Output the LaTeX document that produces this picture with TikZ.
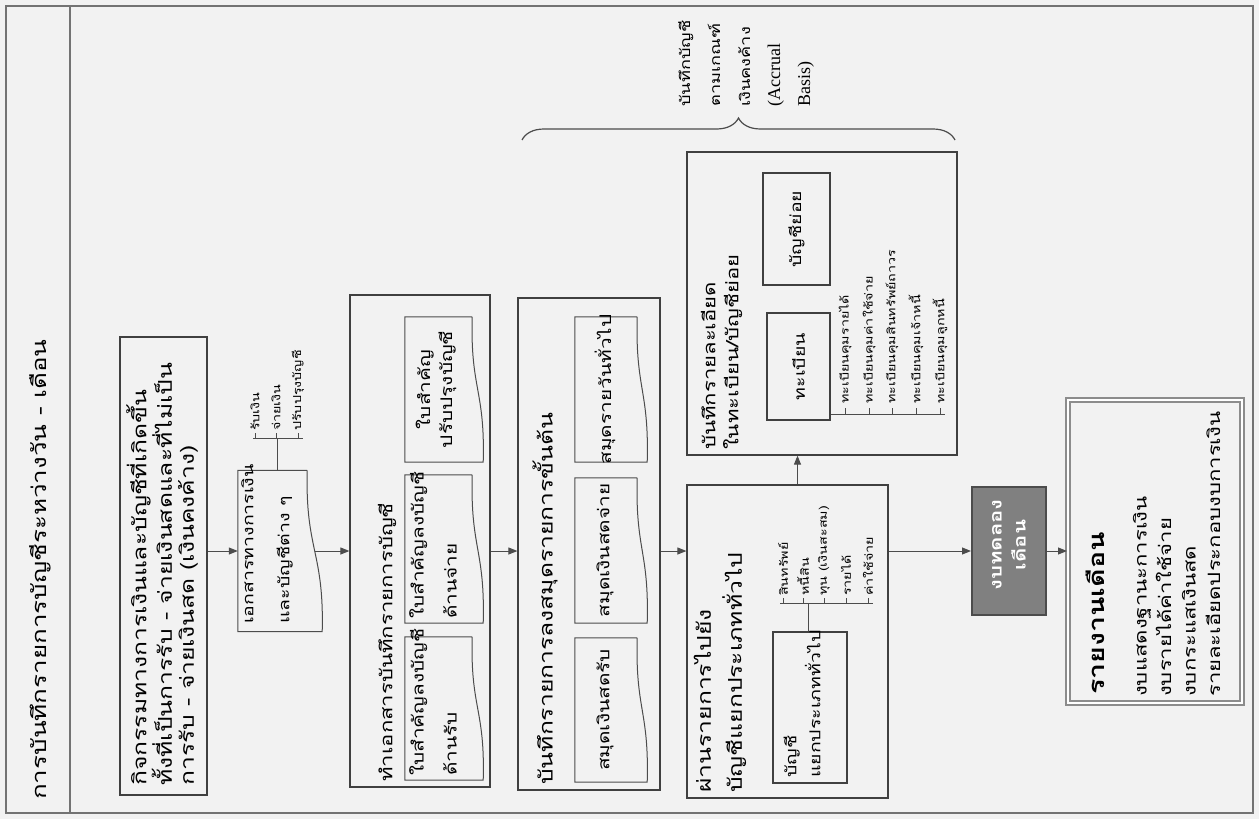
\documentclass[tikz,border=0pt]{standalone}
\usepackage{fontspec}
\setmainfont[Script=Thai,FakeStretch=1.3]{Loma}
\newfontfamily\latinfont{Liberation Serif}
\usetikzlibrary{arrows.meta,calc,decorations.pathreplacing}

\newcommand\fs[2]{\fontsize{#1}{#2}\selectfont}
% document outline with a wavy right side
\newcommand\docpath[2]{%
  \draw[doc line] ($(#1.north east)+(-#2,0)$) -- (#1.north west) -- (#1.south west) -- (#1.south east)
    .. controls ($(#1.south east)!0.5!(#1.north east)+(2,0)$) and ($(#1.south east)!0.5!(#1.north east)+(-#2-2,0)$)
    .. ($(#1.north east)+(-#2,0)$);}

\begin{document}
\begin{tikzpicture}[x=1pt,y=-1pt,
  > = {Triangle[length=9pt,width=7pt]},
  frame/.style = {draw=black!55, line width=2.4pt},
  box/.style = {draw=black!75, line width=1.2pt, inner sep=0pt},
  doc/.style = {inner sep=0pt},
  doc line/.style = {draw=black!70, line width=1pt},
  flow/.style = {->, draw=black!70, line width=1pt},
  vtext/.style = {rotate=90, inner sep=0pt, align=left, anchor=west},
  tick/.style = {draw=black!70, line width=0.8pt}
  ]
  \useasboundingbox (0,0) rectangle (1259,819);
  \fill[black!5] (0,0) rectangle (1259,819);

  % page frame and title band
  \node[frame, minimum width=1247pt, minimum height=807pt] (page) at (629.5,409.5) {};
  \coordinate (band top) at (70,6);
  \coordinate (band bot) at (70,813);
  \draw[frame] (band top) -- (band bot);
  \node[vtext, font=\fs{20}{24}] (title) at (40,800) {การบันทึกรายการบัญชีระหว่างวัน - เดือน};

  % activities
  \node[box, minimum width=87pt, minimum height=458pt] (act) at (163.5,566) {};
  \node[vtext, font=\fs{19}{22}] (act text) at (162,786)
    {กิจกรรมทางการเงินและบัญชีที่เกิดขึ้น\\ทั้งที่เป็นการรับ - จ่ายเงินสดและที่ไม่เป็น\\การรับ - จ่ายเงินสด (เงินคงค้าง)};

  % source documents
  \node[doc, minimum width=84pt, minimum height=161pt] (fdoc) at (280,551) {};
  \docpath{fdoc}{15}
  \node[vtext, font=\fs{15}{36}] (fdoc text) at (267,624) {เอกสารทางการเงิน\\และบัญชีต่าง ๆ};
  \coordinate (fstem) at (277,438);
  \draw[tick] (fstem |- fdoc.north) -- (fstem);
  \draw[tick] (253,438) -- (303,438);
  \foreach \tx/\lab [count=\i] in {255/รับเงิน, 276/จ่ายเงิน, 298/ปรับปรุงบัญชี}{
    \draw[tick] (\tx,438) -- (\tx,433);
    \node[vtext, font=\fs{11}{13}] (flab\i) at (\tx,431) {\lab};
  }

  % vouchers
  \node[box, minimum width=140pt, minimum height=492pt] (vouch) at (420,541) {};
  \node[vtext, font=\fs{17}{20}] (vouch title) at (387,782) {ทำเอกสารบันทึกรายการบัญชี};
  \node[doc, minimum width=78pt, minimum height=143pt] (vr) at (444,708.5) {};
  \node[doc, minimum width=78pt, minimum height=148pt] (vp) at (444,549) {};
  \node[doc, minimum width=78pt, minimum height=145pt] (va) at (444,389.5) {};
  \docpath{vr}{11}
  \docpath{vp}{11}
  \docpath{va}{11}
  \node[vtext, font=\fs{16}{33}] (vr text) at (433,776) {ใบสำคัญลงบัญชี\\ด้านรับ};
  \node[vtext, font=\fs{16}{33}] (vp text) at (433,619) {ใบสำคัญลงบัญชี\\ด้านจ่าย};
  \node[vtext, font=\fs{16}{22}, align=center, anchor=center] (va text) at (436,389.5) {ใบสำคัญ\\ปรับปรุงบัญชี};

  % books of original entry
  \node[box, minimum width=142pt, minimum height=492pt] (journal) at (589,544) {};
  \node[vtext, font=\fs{19}{22}] (journal title) at (545,785) {บันทึกรายการลงสมุดรายการขั้นต้น};
  \node[doc, minimum width=72pt, minimum height=144pt] (jr) at (611,710) {};
  \node[doc, minimum width=72pt, minimum height=145pt] (jp) at (611,550.5) {};
  \node[doc, minimum width=72pt, minimum height=145pt] (jg) at (611,389.5) {};
  \docpath{jr}{10}
  \docpath{jp}{10}
  \docpath{jg}{10}
  \node[vtext, font=\fs{16}{20}, anchor=center] (jr text) at (605,710) {สมุดเงินสดรับ};
  \node[vtext, font=\fs{16}{20}, anchor=center] (jp text) at (605,550.5) {สมุดเงินสดจ่าย};
  \node[vtext, font=\fs{16}{20}, anchor=center] (jg text) at (605,389.5) {สมุดรายวันทั่วไป};

  % general ledger
  \node[box, minimum width=201pt, minimum height=313pt] (ledger) at (787.5,641.5) {};
  \node[vtext, font=\fs{19}{31}] (ledger title) at (720,793) {ผ่านรายการไปยัง\\บัญชีแยกประเภททั่วไป};
  \node[box, minimum width=74pt, minimum height=151pt] (gl) at (810,707.5) {};
  \node[vtext, font=\fs{15}{24}] (gl text) at (802,778) {บัญชี\\แยกประเภททั่วไป};
  \coordinate (gstem) at (808,603);
  \draw[tick] (gstem |- gl.north) -- (gstem);
  \draw[tick] (780,603) -- (873,603);
  \foreach \tx/\lab [count=\i] in {783/สินทรัพย์, 803/หนี้สิน, 824/ทุน (เงินสะสม), 846/รายได้, 868/ค่าใช้จ่าย}{
    \draw[tick] (\tx,603) -- (\tx,598);
    \node[vtext, font=\fs{11}{13}] (glab\i) at (\tx,596) {\lab};
  }

  % registers and subsidiary ledgers
  \node[box, minimum width=270pt, minimum height=303pt] (sub) at (822,303.5) {};
  \node[vtext, font=\fs{17}{23}] (sub title) at (721.5,450) {บันทึกรายละเอียด\\ในทะเบียน/บัญชีย่อย};
  \node[box, minimum width=63pt, minimum height=107pt] (reg) at (798.5,366.5) {};
  \node[box, minimum width=67pt, minimum height=112pt] (subl) at (796.5,229) {};
  \node[vtext, font=\fs{15}{20}, anchor=center] (reg text) at (reg) {ทะเบียน};
  \node[vtext, font=\fs{15}{20}, anchor=center] (subl text) at (subl) {บัญชีย่อย};
  \coordinate (rend) at (945,414);
  \draw[tick] (reg.east |- rend) -- (rend);
  \foreach \tx/\lab [count=\i] in {845/ทะเบียนคุมรายได้, 869/ทะเบียนคุมค่าใช้จ่าย, 892/ทะเบียนคุมสินทรัพย์ถาวร, 916/ทะเบียนคุมเจ้าหนี้, 940/ทะเบียนคุมลูกหนี้}{
    \draw[tick] (\tx,414) -- (\tx,408);
    \node[vtext, font=\fs{11}{13}] (rlab\i) at (\tx,404) {\lab};
  }

  % trial balance
  \node[box, draw=black!70, line width=2pt, fill=black!50, minimum width=74pt, minimum height=128pt] (trial) at (1009,551) {};
  \node[vtext, font=\bfseries\fs{17}{24}, text=white, align=center, anchor=center] (trial text) at (1009,545) {งบทดลอง\\เดือน};

  % monthly report
  \node[box, draw=black!45, line width=2pt, double=white, double distance=1.5pt, minimum width=174pt, minimum height=303pt] (report) at (1155,551.5) {};
  \node[vtext, font=\bfseries\fs{22}{26}] (report title) at (1095,695) {รายงานเดือน};
  \node[vtext, font=\fs{17}{24.5}] (report text) at (1176.5,697)
    {งบแสดงฐานะการเงิน\\งบรายได้ค่าใช้จ่าย\\งบกระแสเงินสด\\รายละเอียดประกอบงบการเงิน};

  % accrual brace
  \coordinate (brace l) at (522,140);
  \coordinate (brace r) at (955,140);
  \draw[doc line, line width=1.2pt, decorate, decoration={brace, amplitude=22pt}] (brace l) -- (brace r);
  \node[vtext, font=\fs{14}{30}] (brace text) at (746,107) {บันทึกบัญชี\\ตามเกณฑ์\\เงินคงค้าง\\{\latinfont\fs{18}{30}(Accrual}\\{\latinfont\fs{18}{30}Basis)}};

  % flow
  \draw[flow] (fdoc.west -| act.east) -- (fdoc.west);
  \draw[flow] ($(fdoc.east)+(-7,0)$) -- (fdoc.east -| vouch.west);
  \draw[flow] (vouch.east |- fdoc.east) -- (journal.west |- fdoc.east);
  \draw[flow] (journal.east |- fdoc.east) -- (ledger.west |- fdoc.east);
  \draw[flow] ($(ledger.north)+(10,0)$) -- ($(sub.south)+(-24.5,0)$);
  \draw[flow] (ledger.east |- trial.west) -- (trial.west);
  \draw[flow] (trial.east) -- (report.west |- trial.east);

\end{tikzpicture}
\end{document}
